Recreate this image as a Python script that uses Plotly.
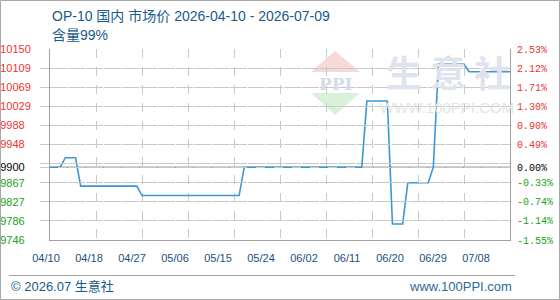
import plotly.graph_objects as go
import pandas as pd

# ---------------- data ----------------
start_date = "2026-04-10"
end_date = "2026-07-09"
prices = [
    9900, 9900, 9900,
    9920, 9920, 9920,
    9860, 9860, 9860, 9860, 9860, 9860, 9860, 9860, 9860, 9860, 9860, 9860,
    9840, 9840, 9840, 9840, 9840, 9840, 9840, 9840, 9840, 9840,
    9840, 9840, 9840, 9840, 9840, 9840, 9840, 9840, 9840, 9840,
    9900, 9900, 9900, 9900, 9900, 9900, 9900, 9900, 9900, 9900, 9900, 9900,
    9900, 9900, 9900, 9900, 9900, 9900, 9900, 9900, 9900, 9900, 9900, 9900,
    10040, 10040, 10040, 10040, 10040,
    9780, 9780, 9780,
    9867, 9867, 9867, 9867, 9867,
    9900,
    10118, 10118, 10118, 10118, 10118, 10118,
    10102, 10102, 10102, 10102, 10102, 10102, 10102, 10102, 10102,
]
dates = pd.date_range(start_date, end_date, freq="D")

base_price = 9900
y_min = 9746
y_max = 10150
y_tick_vals = [9746, 9786.4, 9826.8, 9867.2, 9900, 9907.6, 9948, 9988.4,
               10028.8, 10069.2, 10109.6, 10150]
y_tick_text = ["9746", "9786", "9827", "9867", "9900", "", "9948", "9988",
               "10029", "10069", "10109", "10150"]
pct_tick_vals = [9746, 9786.4, 9826.8, 9867.2, 9900, 9948, 9988.4,
                 10028.8, 10069.2, 10109.6, 10150]
pct_tick_text = ["-1.55%", "-1.14%", "-0.74%", "-0.33%", "0.00%", "0.49%",
                 "0.90%", "1.30%", "1.71%", "2.12%", "2.53%"]
x_tick_labels = ["04/10", "04/18", "04/27", "05/06", "05/15", "05/24",
                 "06/02", "06/11", "06/20", "06/29", "07/08"]

title_text = "OP-10 国内 市场价 2026-04-10 - 2026-07-09"
subtitle_text = "含量99%"

# ---------------- styling ----------------
RED = "#ee3333"
GREEN = "#22a022"
BLACK = "#000000"
BLUE_TXT = "#175a8c"
LINE = "#3b97d3"
GRID = "#c8c8c8"
FRAME = "#a0a0a0"
FIG_SPACE = "\u2007"


def colorize(vals, texts, pad_to=0):
    out = []
    for v, t in zip(vals, texts):
        if t == "":
            out.append("")
            continue
        c = RED if v > base_price + 1e-9 else (BLACK if abs(v - base_price) < 1e-9 else GREEN)
        t = t + FIG_SPACE * max(0, pad_to - len(t))
        out.append(f'<span style="color:{c}">{t}</span>')
    return out


W, H = 560, 300
L_M, R, T, B = 40, 50, 49, 60        # figure margins (paper area 40..510)
PLOT_L = 50                          # left edge of the data area
PW, PH = W - L_M - R, H - T - B


def px(x):
    return (x - L_M) / PW


def py(y):
    return (H - B - y) / PH


fig = go.Figure()

fig.add_trace(go.Scatter(
    x=dates, y=prices, mode="lines",
    line=dict(color=LINE, width=1.6, shape="linear"),
    hoverinfo="skip", showlegend=False,
))

# vertical grid every 9 days, drawn by the date axis
grid_dates = list(dates[::9])

# label axis (evenly spaced labels, independent of the grid)
n_lab = len(x_tick_labels)
lab_step_px = 43.0
first_lab_px = 46.0
lab_r0 = -(first_lab_px - L_M) / lab_step_px
lab_range = [lab_r0, lab_r0 + PW / lab_step_px]
fig.add_trace(go.Scatter(x=[1], y=[base_price], xaxis="x2", yaxis="y",
                         mode="markers", marker=dict(opacity=0),
                         hoverinfo="skip", showlegend=False))
fig.add_trace(go.Scatter(x=[dates[1]], y=[base_price], xaxis="x", yaxis="y2",
                         mode="markers", marker=dict(opacity=0),
                         hoverinfo="skip", showlegend=False))

fig.update_layout(
    width=W, height=H,
    margin=dict(l=L_M, r=R, t=T, b=B, pad=0, autoexpand=False),
    paper_bgcolor="white", plot_bgcolor="rgba(0,0,0,0)",
    showlegend=False,
    xaxis=dict(
        type="date", domain=[px(PLOT_L), 1], anchor="y",
        range=[dates[0], dates[-1]],
        tickmode="array", tickvals=grid_dates,
        showticklabels=False, ticks="",
        showgrid=True, gridcolor=GRID, griddash="dash", gridwidth=1,
        showline=True, linecolor=FRAME, linewidth=1,
        zeroline=False, automargin=False,
    ),
    xaxis2=dict(
        domain=[0, 1], anchor="y", side="bottom",
        range=lab_range,
        tickmode="array",
        tickvals=list(range(n_lab)),
        ticktext=x_tick_labels,
        tickfont=dict(family="Liberation Sans, Arial", size=11, color="#1a4f80"),
        showgrid=False, zeroline=False, showline=False, ticks="",
        ticklabelstandoff=10, automargin=False,
    ),
    yaxis=dict(
        anchor="x",
        range=[y_min, y_max],
        tickmode="array", tickvals=y_tick_vals,
        ticktext=colorize(y_tick_vals, y_tick_text, pad_to=5),
        tickfont=dict(family="Liberation Sans, Arial", size=11),
        showgrid=True, gridcolor=GRID, griddash="dash", gridwidth=1,
        showline=True, linecolor=FRAME, linewidth=1,
        zeroline=False, ticks="", ticklabelstandoff=16, automargin=False,
    ),
    yaxis2=dict(
        overlaying="y", side="right", anchor="x",
        range=[y_min, y_max],
        tickmode="array", tickvals=pct_tick_vals,
        ticktext=colorize(pct_tick_vals, pct_tick_text),
        tickfont=dict(family="Liberation Mono, DejaVu Sans Mono", size=10),
        showgrid=False, zeroline=False,
        showline=True, linecolor=FRAME, linewidth=1,
        ticks="", ticklabelstandoff=4, automargin=False,
    ),
)

# base price line (solid)
fig.add_shape(type="line", xref="x domain", yref="y", x0=0, x1=1,
              y0=base_price, y1=base_price,
              line=dict(color="#9a9a9a", width=1.5), layer="below")

# watermark logo
fig.add_shape(type="path", xref="paper", yref="paper", layer="below",
              path=f"M {px(311)} {py(72)} L {px(335)} {py(51)} L {px(360)} {py(72)} Z",
              fillcolor="#f7d9d9", line=dict(width=0))
fig.add_shape(type="path", xref="paper", yref="paper", layer="below",
              path=f"M {px(311)} {py(93)} L {px(360)} {py(93)} L {px(335)} {py(115)} Z",
              fillcolor="#d9f0d9", line=dict(width=0))
fig.add_annotation(text="<b>PPI</b>", xref="paper", yref="paper",
                   x=px(335.5), y=py(83.5), xanchor="center", yanchor="middle",
                   showarrow=False,
                   font=dict(family="DejaVu Serif", size=17, color="#d4dbe9"))
fig.add_annotation(text="<b>生 意 社</b>", xref="paper", yref="paper",
                   x=px(448), y=py(71), xanchor="center", yanchor="middle",
                   showarrow=False,
                   font=dict(family="Noto Sans CJK SC", size=36, color="#dfe3ee"))
fig.add_annotation(text="WWW.100PPI.COM", xref="paper", yref="paper",
                   x=px(447), y=py(107), xanchor="center", yanchor="middle",
                   showarrow=False,
                   font=dict(family="Liberation Sans, Arial", size=15, color="#e4e4e4"))

# titles
fig.add_annotation(text=title_text, xref="paper", yref="paper",
                   x=px(50), y=py(16), xanchor="left", yanchor="middle",
                   showarrow=False,
                   font=dict(family="Liberation Sans, Noto Sans CJK SC", size=14, color=BLUE_TXT))
fig.add_annotation(text=subtitle_text, xref="paper", yref="paper",
                   x=px(50), y=py(35), xanchor="left", yanchor="middle",
                   showarrow=False,
                   font=dict(family="Liberation Sans, Noto Sans CJK SC", size=14, color=BLUE_TXT))

# footer
fig.add_shape(type="line", xref="paper", yref="paper",
              x0=px(9), x1=px(515), y0=py(275.5), y1=py(275.5),
              line=dict(color="#a0a0a0", width=1))
fig.add_annotation(text="© 2026.07 生意社", xref="paper", yref="paper",
                   x=px(9), y=py(286), xanchor="left", yanchor="middle",
                   showarrow=False,
                   font=dict(family="Liberation Sans, Noto Sans CJK SC", size=13, color=BLUE_TXT))
fig.add_annotation(text="www.100PPI.com", xref="paper", yref="paper",
                   x=px(514), y=py(286), xanchor="right", yanchor="middle",
                   showarrow=False,
                   font=dict(family="Liberation Sans, Arial", size=13, color="#2a6a9a"))

# outer border
fig.add_shape(type="rect", xref="paper", yref="paper",
              x0=px(0.5), x1=px(559.5), y0=py(0.5), y1=py(299.5),
              line=dict(color="#a8a8a8", width=1), fillcolor="rgba(0,0,0,0)")

fig.write_html("out.html")
